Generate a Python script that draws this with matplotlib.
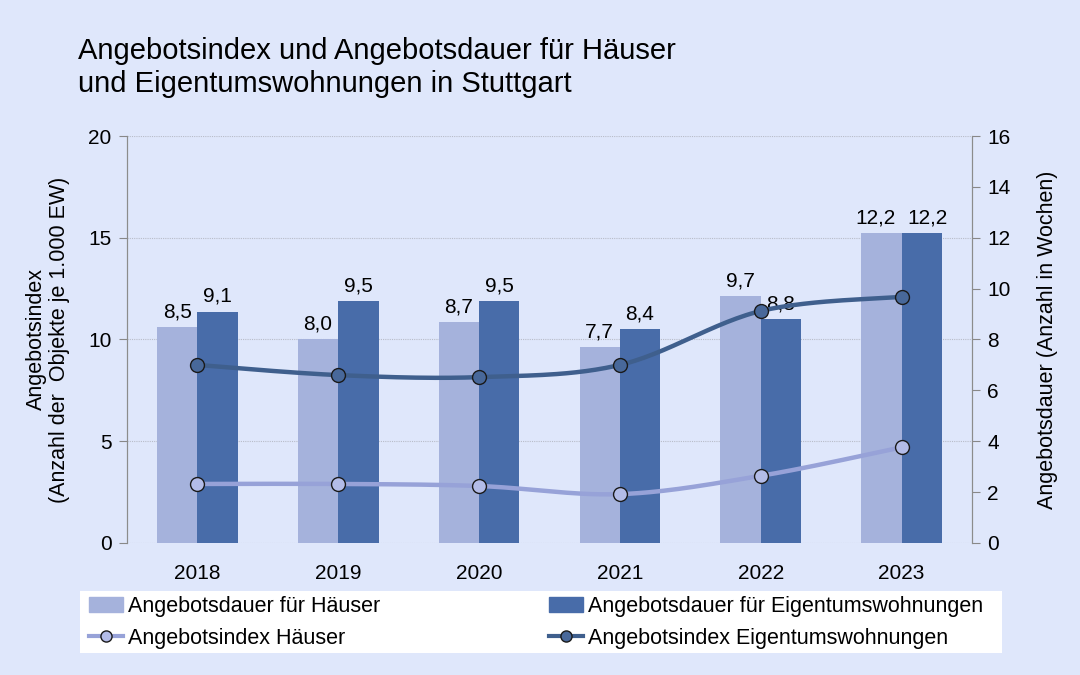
import numpy as np
import matplotlib.pyplot as plt
from matplotlib.lines import Line2D
from matplotlib.patches import Patch, Rectangle

plt.rcParams['font.family'] = ['Liberation Sans', 'DejaVu Sans']

# Daten
jahre = ['2018', '2019', '2020', '2021', '2022', '2023']
dauer_haeuser = [8.5, 8.0, 8.7, 7.7, 9.7, 12.2]
dauer_etw = [9.1, 9.5, 9.5, 8.4, 8.8, 12.2]
index_haeuser = [2.9, 2.9, 2.8, 2.4, 3.3, 4.7]
index_etw = [8.75, 8.25, 8.15, 8.75, 11.4, 12.1]

bg = '#dfe7fb'
c_hell = '#a5b2dc'
c_dunkel = '#486ca9'
c_linie_hell = '#97a2d8'
c_linie_dunkel = '#3f5f8d'
m_hell = '#b3bce8'
m_dunkel = '#48689a'


def glatt(x, y, n=30):
    # geglaettete Linie wie in Excel (Catmull-Rom als Bezier)
    x = np.asarray(x, float)
    y = np.asarray(y, float)
    px, py = [], []
    for i in range(len(x) - 1):
        x0, y0 = (x[i - 1], y[i - 1]) if i > 0 else (x[i], y[i])
        x3, y3 = (x[i + 2], y[i + 2]) if i + 2 < len(x) else (x[i + 1], y[i + 1])
        x1, y1, x2, y2 = x[i], y[i], x[i + 1], y[i + 1]
        b1 = (x1 + (x2 - x0) / 6, y1 + (y2 - y0) / 6)
        b2 = (x2 - (x3 - x1) / 6, y2 - (y3 - y1) / 6)
        t = np.linspace(0, 1, n)
        px.extend((1 - t) ** 3 * x1 + 3 * (1 - t) ** 2 * t * b1[0] + 3 * (1 - t) * t ** 2 * b2[0] + t ** 3 * x2)
        py.extend((1 - t) ** 3 * y1 + 3 * (1 - t) ** 2 * t * b1[1] + 3 * (1 - t) * t ** 2 * b2[1] + t ** 3 * y2)
    return px, py


fig = plt.figure(figsize=(10.8, 6.75), dpi=100, facecolor=bg)
ax = fig.add_axes([0.1176, 0.1956, 0.7824, 0.6029])
ax.set_facecolor(bg)
ax2 = ax.twinx()

x = np.arange(len(jahre))
w = 0.286
b1 = ax.bar(x - w / 2, dauer_haeuser, w, color=c_hell, zorder=2)
b2 = ax.bar(x + w / 2, dauer_etw, w, color=c_dunkel, zorder=2)
for i in range(len(jahre)):
    # gleiche Hoehe -> Beschriftungen etwas auseinanderschieben
    dx = 4 if abs(dauer_haeuser[i] - dauer_etw[i]) < 0.5 else 0
    for rects, vals, sgn in ((b1, dauer_haeuser, -1), (b2, dauer_etw, 1)):
        r = rects[i]
        v = vals[i]
        ax.annotate(f'{v:.1f}'.replace('.', ','), (r.get_x() + r.get_width() / 2, v),
                    xytext=(sgn * dx, 4), textcoords='offset points',
                    ha='center', va='bottom', fontsize=15, zorder=5)

ax.set_ylim(0, 16)
ax.set_yticks(range(0, 17, 2))
ax.set_xlim(-0.5, 5.5)
ax.set_xticks(x)
ax.set_xticklabels(jahre, fontsize=15)
ax.tick_params(axis='x', length=0, pad=15)
ax.yaxis.tick_right()
ax.tick_params(axis='y', labelsize=15, length=6, color='#888888', pad=5)
ax.set_ylabel('Angebotsdauer (Anzahl in Wochen)', fontsize=15.5)
ax.yaxis.set_label_position('right')
ax.yaxis.set_label_coords(1.077, 0.5)

# Gitterlinien an den Teilstrichen der linken Achse
for v in range(0, 21, 5):
    ax.axhline(v * 16 / 20, color='#b8bcc8', linestyle=(0, (1, 1)), linewidth=0.8, zorder=1)

for lx, ly, col, mcol in ((x, index_haeuser, c_linie_hell, m_hell),
                          (x, index_etw, c_linie_dunkel, m_dunkel)):
    sx, sy = glatt(lx, ly)
    ax2.plot(sx, sy, color=col, linewidth=3.2, zorder=3, solid_capstyle='round')
    ax2.plot(lx, ly, 'o', markersize=10, markerfacecolor=mcol, markeredgecolor='#1a1a1a',
             markeredgewidth=1, zorder=4, linestyle='none')

ax2.set_ylim(0, 20)
ax2.set_yticks(range(0, 21, 5))
ax2.yaxis.tick_left()
ax2.tick_params(axis='y', labelsize=15, length=6, color='#888888', pad=5)
ax2.set_ylabel('Angebotsindex\n(Anzahl der  Objekte je 1.000 EW)', fontsize=15.5, linespacing=1.1)
ax2.yaxis.set_label_position('left')
ax2.yaxis.set_label_coords(-0.068, 0.5)

for a in (ax, ax2):
    a.spines['top'].set_visible(False)
    a.spines['bottom'].set_visible(False)
    a.spines['left'].set_color('#8c8c8c')
    a.spines['right'].set_color('#8c8c8c')

fig.text(0.072, 0.9, 'Angebotsindex und Angebotsdauer für Häuser\nund Eigentumswohnungen in Stuttgart',
         fontsize=21, va='center', ha='left', linespacing=1.2)

# Legende: weisser Kasten, zwei Spalten
fig.patches.append(Rectangle((80 / 1080, 1 - 653 / 675), 922 / 1080, 62 / 675,
                             transform=fig.transFigure, facecolor='white', edgecolor='none'))
h_hell = [Patch(color=c_hell, label='Angebotsdauer für Häuser'),
          Line2D([], [], color=c_linie_hell, linewidth=3, marker='o', markersize=8,
                 markerfacecolor=m_hell, markeredgecolor='#1a1a1a', label='Angebotsindex Häuser')]
h_dunkel = [Patch(color=c_dunkel, label='Angebotsdauer für Eigentumswohnungen'),
            Line2D([], [], color=c_linie_dunkel, linewidth=3, marker='o', markersize=8,
                   markerfacecolor=m_dunkel, markeredgecolor='#1a1a1a',
                   label='Angebotsindex Eigentumswohnungen')]
for hs, x0 in ((h_hell, 89 / 1080), (h_dunkel, 549 / 1080)):
    lg = fig.legend(handles=hs, loc='upper left', bbox_to_anchor=(x0, 1 - 596 / 675),
                    fontsize=15.5, frameon=False, handlelength=1.6, handletextpad=0.2,
                    borderpad=0, borderaxespad=0, labelspacing=0.5)

fig.savefig('out.png', dpi=100, facecolor=bg)
